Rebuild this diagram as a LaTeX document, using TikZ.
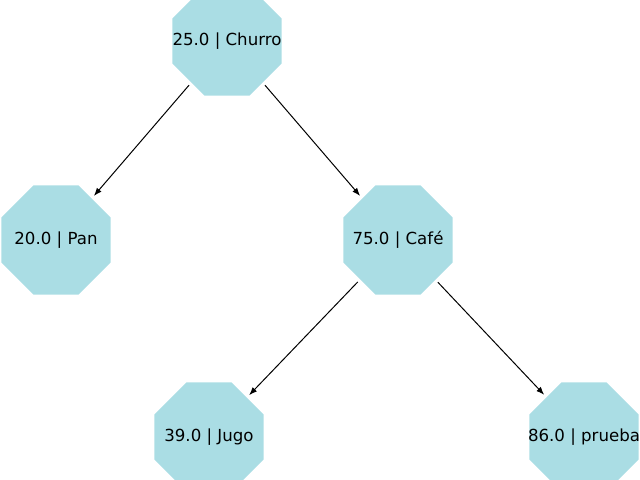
\documentclass[tikz,border=0pt]{standalone}
\usepackage{fontspec}
\setmainfont{DejaVu Sans}
\usepackage{xcolor}
\usetikzlibrary{shapes.geometric, arrows.meta}
\definecolor{octafill}{RGB}{170,221,228}

\begin{document}
\begin{tikzpicture}[
    x=0.01in, y=-0.01in,
    >={Latex[length=5.8pt,width=4.4pt]},
    octa/.style={
        regular polygon,
        regular polygon sides=8,
        draw=none,
        fill=octafill,
        inner sep=0pt,
        outer sep=2.5pt,
        minimum size=1.18in
    },
    tag/.style={
        inner sep=0pt,
        font=\fontsize{12}{14}\selectfont
    },
    edge/.style={->, line width=0.72pt, black}
]
    \useasboundingbox (0,0) rectangle (640,480);
    \clip (0,0) rectangle (640,480);

    % =========================================================
    % TREE NODES
    % =========================================================
    \node [octa] (churro) at (227,41) {};
    \node [octa] (pan)    at (56,240) {};
    \node [octa] (cafe)   at (398,240) {};
    \node [octa] (jugo)   at (209,437) {};
    \node [octa] (prueba) at (584,437) {};

    \node [tag] (churrotag) at (churro) {25.0 | Churro};
    \node [tag] (pantag)    at (pan)    {20.0 | Pan};
    \node [tag] (cafetag)   at (cafe)   {75.0 | Café};
    \node [tag] (jugotag)   at (jugo)   {39.0 | Jugo};
    \node [tag] (pruebatag) at (prueba) {86.0 | prueba};

    % =========================================================
    % PARENT-CHILD CONNECTIONS
    % =========================================================
    \draw [edge] (churro) -- (pan);
    \draw [edge] (churro) -- (cafe);
    \draw [edge] (cafe) -- (jugo);
    \draw [edge] (cafe) -- (prueba);

\end{tikzpicture}
\end{document}
